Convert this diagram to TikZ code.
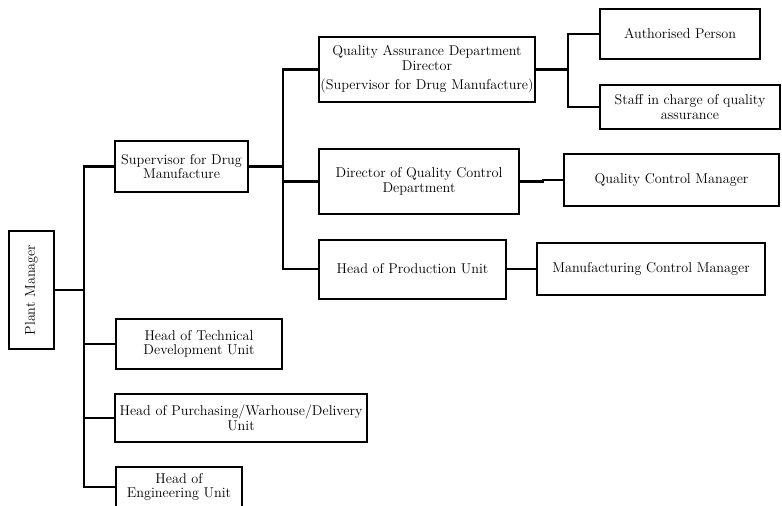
\documentclass[tikz,border=0pt]{standalone}
\usepackage{graphicx}
\usepackage{tikz}

\begin{document}
\begin{tikzpicture}[x=1pt,y=-1pt,
  box/.style={draw, line width=2pt, inner sep=0pt, align=center,
    font=\fontsize{14.2}{14.5}\selectfont},
  link/.style={line width=2.2pt}]
  \useasboundingbox (0,0) rectangle (782,506);
  % plant level
  \node[box, minimum width=45pt, minimum height=118pt] (pm) at (31.5,290) {\rotatebox{90}{Plant Manager}};
  \node[box, minimum width=133pt, minimum height=51pt] (sup) at (181.5,166.5) {Supervisor for Drug\\Manufacture};
  \node[box, minimum width=166pt, minimum height=50pt] (tech) at (199,344) {Head of Technical\\Development Unit};
  \node[box, minimum width=252pt, minimum height=48pt] (pur) at (241,418) {Head of Purchasing/Warhouse/Delivery\\Unit};
  \node[box, minimum width=126pt, minimum height=40pt] (eng) at (179,487) {Head of\\Engineering Unit};
  % departments
  \node[box, minimum width=216pt, minimum height=65pt] (qa) at (427,69.5) {Quality Assurance Department\\Director\\[5pt](Supervisor for Drug Manufacture)};
  \node[box, minimum width=200pt, minimum height=65pt] (dqc) at (419,181.5) {Director of Quality Control\\Department};
  \node[box, minimum width=187pt, minimum height=59pt] (prod) at (412.5,269) {Head of Production Unit};
  % staff
  \node[box, minimum width=160pt, minimum height=50pt] (auth) at (680,34) {Authorised Person};
  \node[box, minimum width=180pt, minimum height=44pt] (staff) at (690,107) {Staff in charge of quality\\assurance};
  \node[box, minimum width=215pt, minimum height=52pt] (qcm) at (671.5,180) {Quality Control Manager};
  \node[box, minimum width=228pt, minimum height=52pt] (mfg) at (651,269) {Manufacturing Control Manager};
  % trunks
  \coordinate (t1) at (84,0);
  \coordinate (t2) at (283,0);
  \coordinate (t3) at (568,0);
  % connectors
  \draw[link] (pm.east) -- (t1 |- pm.east);
  \draw[link] (sup.west) -| (t1 |- eng.west) -- (eng.west);
  \draw[link] (t1 |- tech.west) -- (tech.west);
  \draw[link] (t1 |- pur.west) -- (pur.west);
  \draw[link] (sup.east) -- (t2 |- sup.east);
  \draw[link] (qa.west) -| (t2 |- prod.west) -- (prod.west);
  \draw[link] (t2 |- dqc.west) -- (dqc.west);
  \draw[link] (qa.east) -- (t3 |- qa.east);
  \draw[link] (auth.west) -| (t3 |- staff.west) -- (staff.west);
  \draw[link] (dqc.east) -- ++(23,0) |- (qcm.west);
  \draw[link] (prod.east) -- (mfg.west);
\end{tikzpicture}
\end{document}
